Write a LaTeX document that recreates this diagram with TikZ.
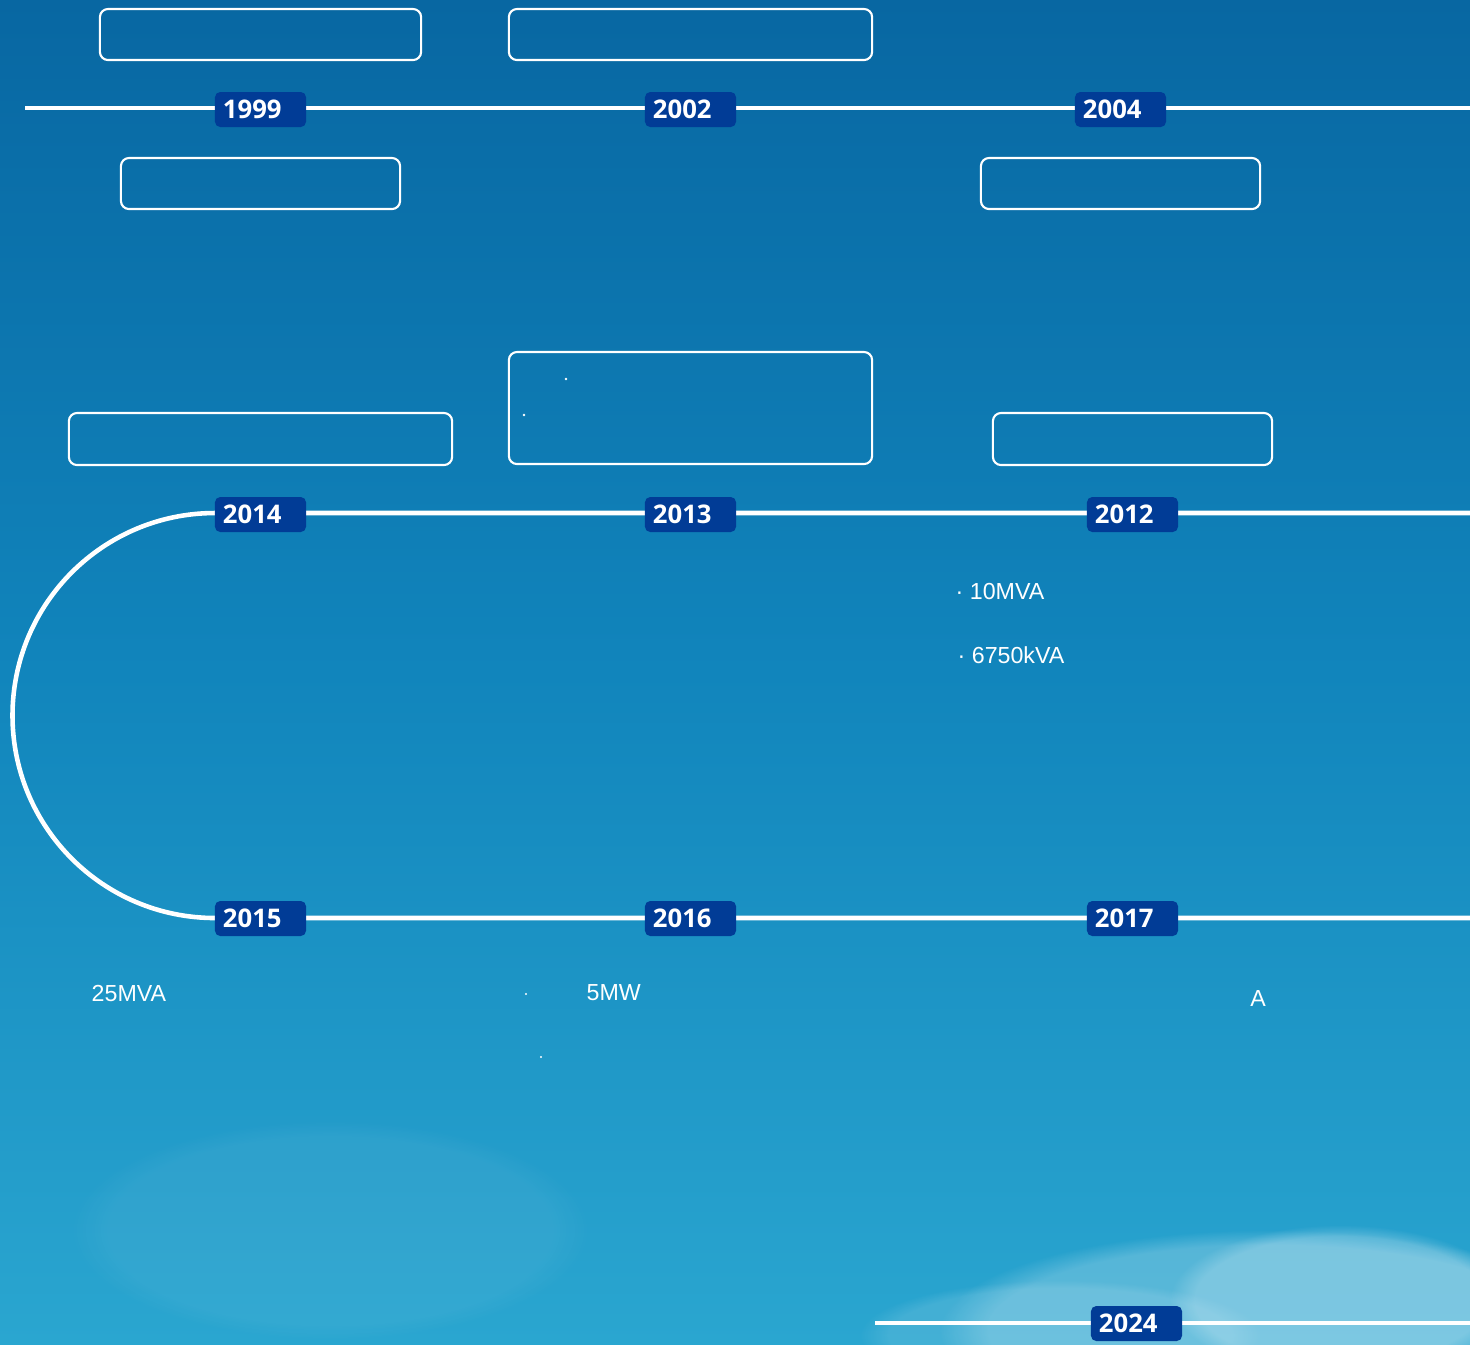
\documentclass[tikz,border=0pt]{standalone}
\usepackage{fontspec}
\setmainfont{Liberation Sans}
\newfontfamily\yearfont{Open Sans}
\usetikzlibrary{positioning,fadings}
\definecolor{skytop}{RGB}{8,103,162}
\definecolor{skymid}{RGB}{17,133,188}
\definecolor{skybot}{RGB}{42,166,208}
\definecolor{badgeblue}{RGB}{1,60,150}
\tikzset{
  yearbox/.style={fill=badgeblue,text=white,rounded corners=1.5pt,
    minimum height=0.35cm,text width=0.75cm,inner xsep=0.08cm,inner ysep=0pt,
    align=left,font=\yearfont\bfseries\fontsize{7.3}{8}\selectfont},
  notebox/.style={draw=white,line width=0.6pt,rounded corners=2.3pt,inner sep=0pt},
  tline/.style={draw=white,line width=1.3pt},
  note/.style={text=white,inner sep=0pt,font=\fontsize{6.6}{8}\selectfont},
  cloud/.style={fill=white,path fading=circle with fuzzy edge 15 percent}
}

\begin{document}
\begin{tikzpicture}[x=0.01cm,y=-0.01cm]

% =========================================================
% Background
% =========================================================

\useasboundingbox (0,0) rectangle (1470,1344);
\shade[top color=skytop,bottom color=skybot,middle color=skymid] (0,0) rectangle (1470,1344);
\fill[cloud,opacity=0.05] (330,1230) ellipse [x radius=260,y radius=110];
\fill[cloud,opacity=0.22] (1270,1330) ellipse [x radius=330,y radius=100];
\fill[cloud,opacity=0.22] (1340,1300) ellipse [x radius=170,y radius=75];
\fill[cloud,opacity=0.12] (1060,1335) ellipse [x radius=200,y radius=55];

% =========================================================
% First row
% =========================================================

\coordinate (r1s) at (25,108);
\coordinate (r1e) at (1470,108);
\draw[tline] (r1s) -- (r1e);

\node[yearbox] (y1999) at (260.5,109.5) {1999};
\node[yearbox] (y2002) at (690.5,109.5) {2002};
\node[yearbox] (y2004) at (1120.5,109.5) {2004};

\node[notebox,minimum width=3.21cm,minimum height=0.51cm] (b1999) at (260.5,34.5) {};
\node[notebox,minimum width=3.63cm,minimum height=0.51cm] (b2002) at (690.5,34.5) {};
\node[notebox,minimum width=2.79cm,minimum height=0.51cm] (c1999) at (260.5,183.5) {};
\node[notebox,minimum width=2.79cm,minimum height=0.51cm] (b2004) at (1120.5,183.5) {};

% =========================================================
% Second and third rows, joined by a half circle
% =========================================================

\coordinate (r2e) at (1470,513);
\coordinate (r2s) at (215,513);
\coordinate (r3e) at (1470,918);
\draw[tline] (r2e) -- (r2s) arc[start angle=270,end angle=90,radius=202.5] -- (r3e);

\node[yearbox] (y2014) at (260.5,514.5) {2014};
\node[yearbox] (y2013) at (690.5,514.5) {2013};
\node[yearbox] (y2012) at (1132.5,514.5) {2012};

\node[notebox,minimum width=3.83cm,minimum height=0.52cm] (b2014) at (260.5,439) {};
\node[notebox,minimum width=3.63cm,minimum height=1.12cm] (b2013) at (690.5,408) {};
\node[notebox,minimum width=2.79cm,minimum height=0.52cm] (b2012) at (1132.5,439) {};

\fill[white] (566,379) circle[radius=1.4];
\fill[white] (524,415) circle[radius=1.4];

\node[note,anchor=west] (t10mva) at (955,591) {· 10MVA};
\node[note,anchor=west] (t6750) at (957,655) {· 6750kVA};

\node[yearbox] (y2015) at (260.5,918.5) {2015};
\node[yearbox] (y2016) at (690.5,918.5) {2016};
\node[yearbox] (y2017) at (1132.5,918.5) {2017};

\node[note,anchor=west] (t25mva) at (91,993) {25MVA};
\node[note,anchor=west] (t5mw) at (586,993) {5MW};
\node[note] (ta) at (1258,998) {A};

\fill[white] (526,994) circle[radius=1.2];
\fill[white] (541,1057) circle[radius=1.2];

% =========================================================
% Last row
% =========================================================

\coordinate (r4s) at (875,1323);
\coordinate (r4e) at (1470,1323);
\draw[tline] (r4s) -- (r4e);

\node[yearbox] (y2024) at (1136.5,1323.5) {2024};

\end{tikzpicture}
\end{document}
